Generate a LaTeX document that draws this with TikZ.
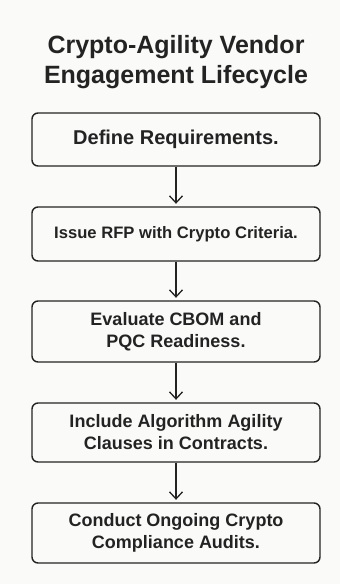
\documentclass[tikz,border=0pt]{standalone}
\usepackage{fontspec}
\setmainfont{Liberation Sans}
\usetikzlibrary{arrows.meta}
\definecolor{bg}{HTML}{FAFAF8}
\definecolor{ink}{HTML}{232323}
\begin{document}
\begin{tikzpicture}[x=1pt,y=1pt,
  stepbox/.style={draw=ink, line width=1.4pt, rounded corners=6pt, fill=bg,
    minimum width=288pt, text=ink, align=center, inner sep=0pt,
    font=\bfseries\fontsize{18}{22}\selectfont},
  flow/.style={draw=ink, line width=1.3pt, shorten >=2.5pt,
    -{Straight Barb[length=7pt,width=13pt,line width=1.3pt]}}]
\fill[bg] (0,0) rectangle (340,-584);
\useasboundingbox (0,0) rectangle (340,-584);
\node[font=\bfseries\fontsize{25}{30}\selectfont, text=ink, align=center, inner sep=0pt] (title) at (176,-62) {Crypto-Agility Vendor\\Engagement Lifecycle};
\node[stepbox, minimum height=53pt, font=\bfseries\fontsize{20}{22}\selectfont] (s1) at (176,-139.5) {Define Requirements.};
\node[stepbox, minimum height=54pt, font=\bfseries\fontsize{16.6}{22}\selectfont] (s2) at (176,-234) {Issue RFP with Crypto Criteria.};
\node[stepbox, minimum height=61pt] (s3) at (176,-331.5) {Evaluate CBOM and\\PQC Readiness.};
\node[stepbox, minimum height=59pt] (s4) at (176,-432.5) {Include Algorithm Agility\\Clauses in Contracts.};
\node[stepbox, minimum height=60pt] (s5) at (176,-533) {Conduct Ongoing Crypto\\Compliance Audits.};
\draw[flow] (s1) -- (s2);
\draw[flow] (s2) -- (s3);
\draw[flow] (s3) -- (s4);
\draw[flow] (s4) -- (s5);
\end{tikzpicture}
\end{document}
